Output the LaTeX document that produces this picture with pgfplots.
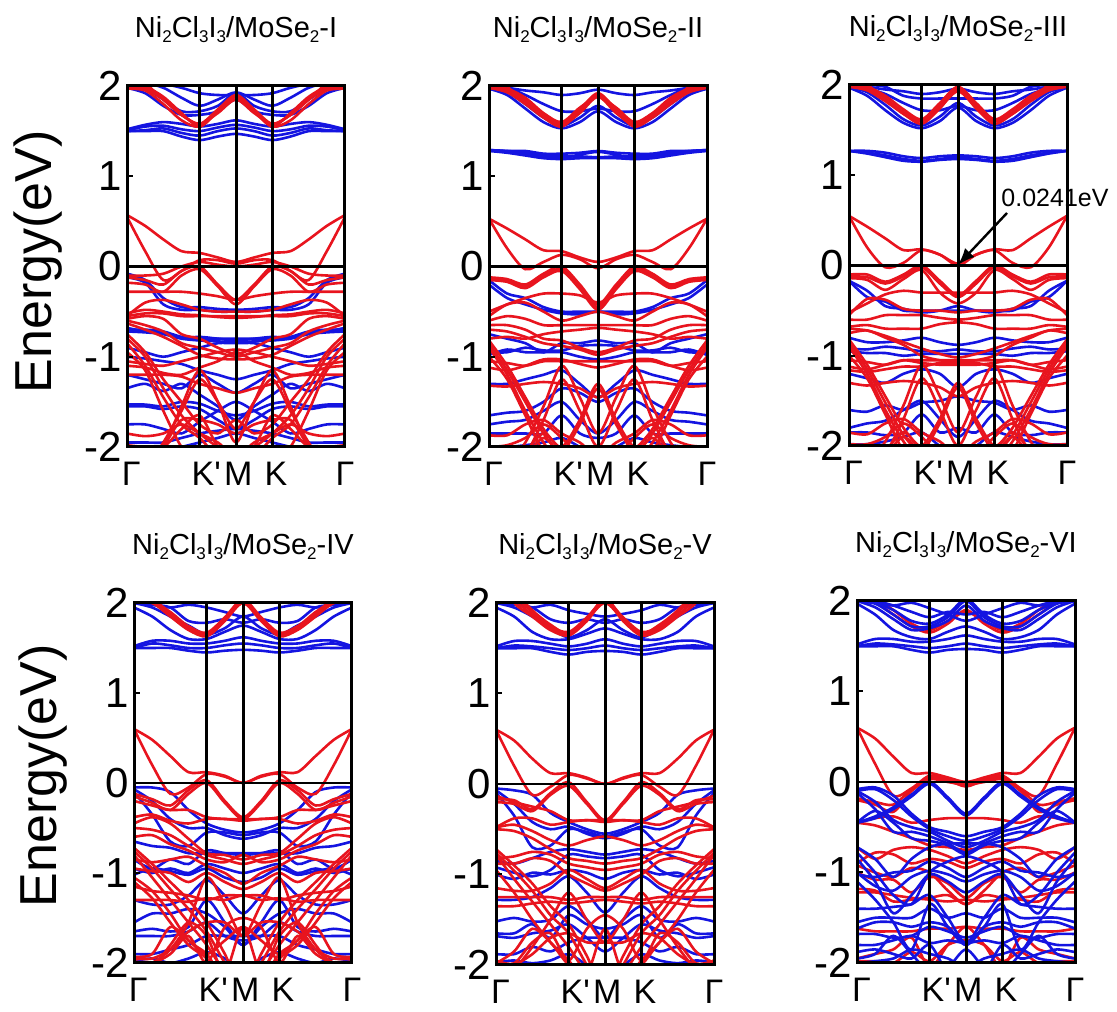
\documentclass[border=0pt]{standalone}
\usepackage{fontspec}
\setmainfont{Liberation Sans}
\newfontfamily\plainf{Liberation Sans}
\usepackage{pgfplots}
\usetikzlibrary{arrows.meta}
\pgfplotsset{compat=1.18}
\definecolor{bandred}{RGB}{232,20,30}
\definecolor{bandblue}{RGB}{20,20,225}
% one band: energies at Gamma, .25, .5, .75, K', 1.25, M; path is mirror symmetric about M
\def\RD#1 #2 #3 #4 #5 #6 #7;{\addplot[bandred,line width=2.6pt,smooth,tension=.5] coordinates {(0,#1)(.25,#2)(.5,#3)(.75,#4)(1,#5)(1.25,#6)(1.5,#7)(1.75,#6)(2,#5)(2.25,#4)(2.5,#3)(2.75,#2)(3,#1)};}
\def\BL#1 #2 #3 #4 #5 #6 #7;{\addplot[bandblue,line width=2.6pt,smooth,tension=.5] coordinates {(0,#1)(.25,#2)(.5,#3)(.75,#4)(1,#5)(1.25,#6)(1.5,#7)(1.75,#6)(2,#5)(2.25,#4)(2.5,#3)(2.75,#2)(3,#1)};}
\newcommand\Frame{%
 \addplot[black,line width=2.7pt] coordinates {(0,0)(3,0)};
 \addplot[black,line width=3pt] coordinates {(1,-2)(1,2)};
 \addplot[black,line width=3pt] coordinates {(1.5,-2)(1.5,2)};
 \addplot[black,line width=3pt] coordinates {(2,-2)(2,2)};}
\newcommand\sbs[1]{\raisebox{-.32ex}{\fontsize{17}{17}\selectfont #1}}
\newcommand\Ttl[1]{Ni\sbs{2}Cl\sbs{3}I\sbs{3}/MoSe\sbs{2}-#1}
\pgfplotsset{panel/.style={scale only axis,width=218pt,height=361pt,anchor=south west,
 xmin=0,xmax=3,ymin=-2,ymax=2,axis on top,axis line style={line width=3pt},
 xtick={.06,1.09,1.53,2.05,3},xticklabels={Γ,{\plainf K'},M,K,Γ},
 ytick={-2,-1,0,1,2},yticklabels={-2,-1,0,1,2},ytick pos=left,
 xtick style={draw=none},ytick style={line width=2pt,black},
 tick align=inside,major tick length=6pt,
 xticklabel style={font=\fontsize{34}{34}\selectfont,yshift=-15pt,inner sep=0pt,anchor=north},
 yticklabel style={font=\fontsize{42}{42}\selectfont,xshift=-5pt,inner sep=0pt,anchor=east},
 title style={at={(0.5,1)},anchor=center,yshift=50pt,font=\fontsize{29}{29}\selectfont},
 }}
\begin{document}
\begin{tikzpicture}[x=1pt,y=1pt]
\useasboundingbox (0,0) rectangle (1117,1012);
% ---------- I
\begin{axis}[panel,at={(127pt,565pt)},title={\Ttl{I}}]
\BL 1.50 1.50 1.50 1.44 1.40 1.44 1.47;
\BL 1.50 1.51 1.53 1.48 1.45 1.50 1.53;
\BL 1.51 1.55 1.56 1.52 1.50 1.54 1.57;
\BL 1.52 1.57 1.60 1.58 1.55 1.58 1.62;
\BL 1.98 1.92 1.78 1.68 1.68 1.72 1.85;
\BL 2.00 1.97 1.85 1.72 1.72 1.78 1.92;
\BL 2.00 2.03 1.98 1.87 1.78 1.85 1.93;
\BL 2.00 2.00 2.02 1.98 1.92 1.90 1.90;
\BL 2.00 2.00 2.00 2.00 2.00 2.00 2.00;
\BL -.08 -.15 -.35 -.45 -.45 -.47 -.48;
\BL -.12 -.18 -.42 -.48 -.48 -.50 -.50;
\BL -.70 -.70 -.72 -.78 -.80 -.80 -.80;
\BL -.72 -.73 -.75 -.80 -.82 -.83 -.84;
\BL -.68 -.72 -.74 -.79 -.78 -.80 -.82;
\BL -.90 -.95 -1.00 -.95 -.90 -.85 -.85;
\BL -1.00 -1.02 -1.05 -1.08 -1.15 -1.20 -1.25;
\BL -1.20 -1.25 -1.30 -1.35 -1.20 -1.30 -1.40;
\BL -1.35 -1.30 -1.38 -1.30 -1.42 -1.55 -1.70;
\BL -1.53 -1.53 -1.55 -1.50 -1.52 -1.60 -1.65;
\BL -1.55 -1.55 -1.58 -1.55 -1.58 -1.70 -1.80;
\BL -1.75 -1.75 -1.80 -1.85 -1.72 -1.60 -1.50;
\BL -1.95 -1.95 -1.95 -1.90 -1.85 -1.82 -1.80;
\BL -2.00 -2.00 -2.05 -2.00 -1.95 -1.90 -1.85;
\RD 1.97 1.95 1.80 1.62 1.55 1.72 1.88;
\RD 1.98 1.97 1.85 1.68 1.58 1.74 1.90;
\RD 1.98 1.99 1.88 1.70 1.55 1.72 1.85;
\RD 2.40 2.05 1.85 1.68 1.58 1.70 1.85;
\RD .57 .45 .30 .17 .15 .10 .05;
\RD .55 .17 -.15 -.05 .07 .07 .03;
\RD -.10 -.10 -.08 .00 .05 .02 .00;
\RD -.12 -.15 -.20 -.05 .00 -.20 -.37;
\RD -.18 -.20 -.28 -.10 -.03 -.22 -.42;
\RD -.28 -.28 -.28 -.28 -.30 -.33 -.37;
\RD -.55 -.40 -.37 -.42 -.48 -.50 -.50;
\RD -.55 -.52 -.52 -.55 -.55 -.55 -.55;
\RD -.52 -.48 -.50 -.53 -.54 -.56 -.57;
\RD -.58 -.55 -.58 -.75 -.80 -.90 -.97;
\RD -.60 -.65 -.72 -.85 -.90 -.95 -1.00;
\RD -.63 -.70 -.78 -.88 -.98 -1.02 -1.03;
\RD -.75 -.95 -1.25 -1.50 -1.75 -1.85 -1.70;
\RD -.85 -1.10 -1.45 -1.75 -1.90 -2.10 -2.10;
\RD -.80 -1.00 -1.35 -1.65 -1.85 -2.00 -2.10;
\RD -.95 -1.15 -1.60 -2.00 -2.20 -2.20 -2.20;
\RD -1.05 -1.08 -1.10 -1.05 -1.00 -.95 -.92;
\RD -1.10 -1.12 -1.18 -1.20 -1.12 -1.05 -.95;
\RD -1.20 -1.20 -1.20 -1.22 -1.30 -1.35 -1.40;
\RD -2.50 -2.25 -1.95 -1.60 -1.25 -1.50 -1.80;
\RD -2.30 -2.20 -2.00 -1.55 -1.15 -1.50 -1.95;
\RD -2.50 -2.30 -2.00 -1.70 -1.70 -1.75 -1.85;
\RD -1.85 -1.88 -1.85 -1.75 -1.85 -1.95 -2.10;
\RD -1.98 -2.00 -2.00 -1.80 -1.65 -2.00 -2.20;
\Frame
\end{axis}
% ---------- II
\begin{axis}[panel,at={(489pt,565pt)},title={\Ttl{II}}]
\BL 1.29 1.27 1.25 1.22 1.20 1.24 1.27;
\BL 1.29 1.28 1.26 1.24 1.22 1.22 1.21;
\BL 1.28 1.26 1.23 1.20 1.19 1.20 1.20;
\BL 1.29 1.28 1.28 1.25 1.25 1.26 1.28;
\BL 1.97 1.90 1.75 1.60 1.53 1.60 1.72;
\BL 1.97 1.93 1.80 1.65 1.56 1.65 1.78;
\BL 1.98 1.98 1.90 1.80 1.72 1.72 1.75;
\BL 2.00 1.98 1.95 1.93 1.90 1.92 1.96;
\BL 2.00 2.00 2.00 2.00 2.00 2.00 2.00;
\BL -.15 -.30 -.35 -.45 -.50 -.50 -.50;
\BL -.20 -.35 -.42 -.48 -.52 -.53 -.50;
\BL -.75 -.80 -.85 -.95 -.85 -.85 -.82;
\BL -.95 -.95 -.90 -.93 -.93 -.88 -.87;
\BL -.98 -.92 -.95 -.95 -.95 -1.00 -1.03;
\BL -1.30 -1.30 -1.25 -1.20 -1.15 -1.30 -1.45;
\BL -1.65 -1.62 -1.60 -1.50 -1.35 -1.40 -1.50;
\BL -1.75 -1.72 -1.70 -1.60 -1.50 -1.70 -1.85;
\BL -1.85 -1.85 -1.85 -1.85 -1.65 -1.85 -1.90;
\BL -2.00 -2.00 -1.98 -1.95 -1.90 -2.00 -2.10;
\RD 1.98 1.93 1.80 1.65 1.55 1.72 1.90;
\RD 1.98 1.95 1.83 1.68 1.58 1.74 1.92;
\RD 1.99 1.97 1.87 1.70 1.60 1.76 1.88;
\RD 2.40 2.00 1.85 1.68 1.57 1.70 1.88;
\RD .53 .42 .30 .18 .17 .10 .05;
\RD .53 .20 -.03 .05 .13 .08 -.02;
\RD -.12 -.14 -.20 -.08 .00 -.20 -.42;
\RD -.13 -.16 -.22 -.10 -.03 -.22 -.45;
\RD -.15 -.17 -.24 -.12 -.05 -.25 -.48;
\RD -.50 -.42 -.35 -.30 -.30 -.32 -.40;
\RD -.55 -.42 -.40 -.50 -.60 -.55 -.50;
\RD -.60 -.55 -.58 -.65 -.65 -.65 -.65;
\RD -.65 -.65 -.70 -.80 -.82 -.90 -.95;
\RD -.70 -.72 -.78 -.85 -.88 -.92 -.98;
\RD -.80 -.78 -.80 -.75 -.72 -.70 -.68;
\RD -.82 -1.10 -1.45 -1.80 -2.05 -2.30 -2.30;
\RD -.86 -1.15 -1.50 -1.85 -2.10 -2.30 -2.30;
\RD -.90 -1.20 -1.60 -1.95 -2.20 -2.30 -2.30;
\RD -1.00 -1.25 -1.65 -2.05 -2.10 -2.20 -2.20;
\RD -1.05 -1.07 -1.10 -1.05 -1.05 -1.05 -1.05;
\RD -1.12 -1.15 -1.10 -1.03 -1.03 -1.08 -1.12;
\RD -1.32 -1.33 -1.30 -1.28 -1.30 -1.35 -1.45;
\RD -2.40 -2.20 -1.95 -1.55 -1.10 -1.45 -1.85;
\RD -2.60 -2.40 -2.10 -1.70 -1.25 -1.60 -2.00;
\RD -2.30 -2.20 -2.05 -1.85 -2.00 -1.70 -1.30;
\RD -2.35 -2.25 -2.10 -1.90 -2.05 -1.75 -1.35;
\RD -1.87 -1.87 -1.75 -1.70 -1.85 -1.95 -2.10;
\RD -2.00 -1.98 -1.90 -1.75 -1.90 -2.10 -2.20;
\Frame
\end{axis}
% ---------- III
\begin{axis}[panel,at={(849pt,566pt)},title={\Ttl{III}}]
\BL 1.27 1.25 1.22 1.18 1.16 1.18 1.20;
\BL 1.27 1.24 1.20 1.16 1.15 1.17 1.18;
\BL 1.27 1.27 1.25 1.21 1.19 1.21 1.22;
\BL 1.97 1.88 1.72 1.58 1.52 1.60 1.75;
\BL 1.98 1.92 1.78 1.62 1.55 1.65 1.80;
\BL 1.99 1.96 1.90 1.80 1.72 1.72 1.77;
\BL 2.00 1.98 1.95 1.93 1.90 1.92 1.96;
\BL 2.00 2.00 1.98 1.88 1.85 1.85 1.85;
\BL -.17 -.35 -.40 -.50 -.50 -.50 -.50;
\BL -.17 -.28 -.45 -.48 -.52 -.50 -.45;
\BL -.80 -.85 -.85 -.83 -.80 -.85 -.88;
\BL -.92 -.93 -.90 -.92 -.95 -.95 -.93;
\BL -.95 -.97 -.97 -1.00 -.98 -.98 -.98;
\BL -1.20 -1.25 -1.30 -1.20 -1.15 -1.20 -1.35;
\BL -1.60 -1.62 -1.55 -1.60 -1.52 -1.50 -1.45;
\BL -1.80 -1.75 -1.72 -1.60 -1.50 -1.70 -1.90;
\BL -1.85 -1.85 -1.88 -1.85 -1.65 -1.85 -1.80;
\BL -1.98 -1.98 -1.95 -1.90 -1.85 -2.00 -2.10;
\RD 1.98 1.94 1.82 1.68 1.57 1.74 1.95;
\RD 1.99 1.96 1.85 1.70 1.60 1.77 1.97;
\RD 2.00 1.98 1.88 1.73 1.62 1.80 1.98;
\RD 2.40 2.02 1.85 1.68 1.60 1.75 1.93;
\RD .55 .43 .30 .17 .18 .12 .02;
\RD .55 .20 -.02 .03 .17 .12 .00;
\RD -.10 -.10 -.18 -.10 .00 -.17 -.33;
\RD -.12 -.13 -.20 -.12 -.02 -.20 -.35;
\RD -.14 -.16 -.27 -.15 -.05 -.30 -.42;
\RD -.52 -.42 -.32 -.28 -.30 -.30 -.30;
\RD -.55 -.37 -.38 -.48 -.50 -.50 -.52;
\RD -.60 -.60 -.55 -.55 -.55 -.58 -.60;
\RD -.68 -.66 -.70 -.70 -.70 -.65 -.63;
\RD -.70 -.72 -.78 -.85 -.92 -.98 -1.02;
\RD -.75 -.72 -.80 -.88 -1.00 -1.05 -1.07;
\RD -.82 -1.10 -1.45 -1.80 -2.05 -2.20 -2.20;
\RD -.86 -1.15 -1.52 -1.88 -2.10 -2.25 -2.25;
\RD -.90 -1.20 -1.60 -1.95 -2.20 -2.30 -2.30;
\RD -1.00 -1.25 -1.65 -2.05 -2.10 -2.20 -2.20;
\RD -1.05 -1.07 -1.10 -1.05 -1.05 -1.05 -1.05;
\RD -1.12 -1.15 -1.10 -1.05 -1.08 -1.10 -1.10;
\RD -1.16 -1.18 -1.15 -1.12 -1.12 -1.08 -1.08;
\RD -1.30 -1.33 -1.30 -1.28 -1.30 -1.35 -1.45;
\RD -2.40 -2.20 -1.95 -1.55 -1.10 -1.45 -1.85;
\RD -2.60 -2.40 -2.10 -1.70 -1.25 -1.60 -2.00;
\RD -2.30 -2.20 -2.05 -1.85 -2.00 -1.70 -1.30;
\RD -2.35 -2.25 -2.10 -1.90 -2.05 -1.75 -1.35;
\RD -1.85 -1.87 -1.75 -1.70 -1.85 -1.95 -2.10;
\RD -1.98 -1.98 -1.90 -1.75 -1.90 -2.10 -2.20;
\Frame
\end{axis}
% ---------- IV
\begin{axis}[panel,at={(134pt,49pt)},height=360pt,title={\Ttl{IV}}]
\BL 1.50 1.50 1.50 1.47 1.45 1.47 1.48;
\BL 1.50 1.55 1.53 1.50 1.50 1.53 1.55;
\BL 1.52 1.58 1.58 1.55 1.55 1.58 1.62;
\BL 1.95 1.85 1.70 1.60 1.60 1.68 1.75;
\BL 2.00 1.95 1.85 1.75 1.65 1.72 1.85;
\BL 2.00 1.98 1.95 1.80 1.78 1.82 1.78;
\BL 2.00 1.98 1.95 1.98 1.95 1.90 1.85;
\BL -.05 -.05 -.10 -.30 -.45 -.52 -.55;
\BL -.07 -.20 -.40 -.50 -.50 -.58 -.62;
\BL -.10 -.35 -.65 -.70 -.55 -.55 -.58;
\BL -.65 -.70 -.72 -.78 -.78 -.78 -.78;
\BL -.85 -.95 -.85 -.90 -.75 -.78 -.80;
\BL -.95 -1.00 -.95 -1.00 -.90 -.95 -1.00;
\BL -1.02 -.95 -.98 -1.02 -.95 -1.05 -1.10;
\BL -1.30 -1.35 -1.35 -1.25 -1.08 -1.25 -1.45;
\BL -1.55 -1.45 -1.45 -1.40 -1.45 -1.60 -1.80;
\BL -1.65 -1.62 -1.65 -1.60 -1.30 -1.55 -1.80;
\BL -1.70 -1.70 -1.70 -1.65 -1.55 -1.70 -1.75;
\BL -1.90 -1.90 -1.85 -1.80 -1.70 -1.70 -1.70;
\BL -1.98 -1.95 -2.00 -1.95 -1.88 -1.95 -2.10;
\RD 2.00 2.00 1.85 1.70 1.63 1.80 2.00;
\RD 2.02 2.00 1.88 1.72 1.65 1.82 2.02;
\RD 2.04 2.02 1.90 1.74 1.67 1.84 2.04;
\RD 2.40 2.08 1.88 1.74 1.66 1.82 2.00;
\RD .60 .48 .30 .12 .12 .08 .00;
\RD .60 .20 -.12 -.05 .10 .07 .00;
\RD -.12 -.18 -.25 -.08 .03 -.20 -.38;
\RD -.15 -.22 -.30 -.12 .00 -.22 -.40;
\RD -.20 -.25 -.30 -.30 -.38 -.40 -.40;
\RD -.38 -.35 -.42 -.45 -.40 -.40 -.42;
\RD -.45 -.38 -.45 -.62 -.78 -.80 -.85;
\RD -.50 -.52 -.58 -.70 -.80 -.85 -.90;
\RD -.60 -.58 -.68 -.75 -.85 -.88 -.80;
\RD -.72 -.90 -1.10 -1.30 -1.55 -1.90 -2.30;
\RD -.76 -.95 -1.18 -1.40 -1.65 -2.00 -2.30;
\RD -.80 -1.05 -1.30 -1.55 -1.80 -2.10 -2.30;
\RD -.85 -.88 -.85 -.82 -.92 -1.00 -1.12;
\RD -.95 -.98 -1.00 -1.10 -1.00 -1.10 -1.18;
\RD -1.05 -1.20 -1.45 -1.75 -1.90 -2.20 -2.30;
\RD -1.10 -1.28 -1.55 -1.80 -1.95 -2.20 -2.30;
\RD -1.15 -1.20 -1.22 -1.25 -1.30 -1.25 -1.25;
\RD -1.30 -1.30 -1.30 -1.32 -1.28 -1.30 -1.25;
\RD -2.10 -2.00 -1.85 -1.55 -1.05 -1.35 -1.70;
\RD -2.00 -2.05 -1.80 -1.55 -1.70 -2.10 -1.60;
\RD -1.95 -1.95 -1.85 -1.65 -1.55 -1.55 -1.70;
\RD -1.98 -2.00 -1.90 -1.70 -2.00 -1.60 -1.50;
\RD -1.93 -1.90 -1.60 -1.75 -1.90 -1.75 -1.60;
\Frame
\end{axis}
% ---------- V
\begin{axis}[panel,at={(496pt,47pt)},height=362pt,title={\Ttl{V}}]
\BL 1.50 1.50 1.50 1.46 1.43 1.46 1.47;
\BL 1.50 1.53 1.52 1.50 1.48 1.50 1.53;
\BL 1.52 1.58 1.58 1.55 1.52 1.55 1.60;
\BL 1.95 1.85 1.68 1.60 1.60 1.66 1.72;
\BL 2.00 1.95 1.85 1.72 1.62 1.70 1.82;
\BL 2.00 1.98 1.95 1.82 1.78 1.82 1.78;
\BL 2.00 1.98 1.95 1.98 1.92 1.88 1.85;
\BL -.05 -.07 -.12 -.32 -.42 -.50 -.55;
\BL -.07 -.22 -.42 -.50 -.47 -.55 -.60;
\BL -.10 -.35 -.70 -.68 -.50 -.53 -.58;
\BL -.85 -.88 -.82 -.75 -.72 -.75 -.78;
\BL -.92 -.98 -1.02 -.95 -.78 -.80 -.82;
\BL -1.00 -1.05 -.98 -1.00 -.95 -.98 -1.05;
\BL -1.28 -1.28 -1.25 -1.15 -1.02 -1.20 -1.42;
\BL -1.52 -1.48 -1.52 -1.50 -1.35 -1.50 -1.70;
\BL -1.65 -1.65 -1.55 -1.70 -1.45 -1.55 -1.60;
\BL -1.68 -1.70 -1.65 -1.62 -1.55 -1.70 -1.85;
\BL -1.88 -1.88 -1.80 -1.85 -1.75 -1.70 -1.70;
\BL -1.97 -1.95 -1.98 -1.95 -1.88 -2.00 -2.10;
\RD 2.30 2.00 1.85 1.70 1.64 1.80 2.02;
\RD 2.40 2.05 1.87 1.72 1.66 1.82 2.05;
\RD 2.50 2.10 1.90 1.74 1.68 1.84 2.03;
\RD 2.60 2.15 1.92 1.76 1.66 1.82 2.00;
\RD .60 .48 .28 .12 .12 .07 .00;
\RD .60 .20 -.12 -.03 .10 .06 .00;
\RD -.17 -.18 -.28 -.10 .02 -.20 -.40;
\RD -.20 -.22 -.30 -.12 -.02 -.22 -.42;
\RD -.13 -.20 -.25 -.30 -.40 -.40 -.40;
\RD -.48 -.38 -.38 -.45 -.42 -.40 -.42;
\RD -.48 -.45 -.52 -.62 -.68 -.62 -.58;
\RD -.50 -.52 -.60 -.72 -.82 -.85 -.88;
\RD -.72 -.90 -1.10 -1.35 -1.55 -1.90 -2.30;
\RD -.76 -.96 -1.18 -1.45 -1.65 -2.00 -2.30;
\RD -.78 -1.05 -1.30 -1.55 -1.80 -2.10 -2.30;
\RD -.82 -.80 -.75 -.78 -.88 -.92 -.95;
\RD -.88 -.88 -.82 -.85 -1.00 -1.10 -1.18;
\RD -.95 -1.20 -1.50 -1.75 -1.95 -2.20 -2.30;
\RD -1.15 -1.18 -1.18 -1.10 -.95 -1.05 -1.15;
\RD -1.25 -1.25 -1.25 -1.25 -1.28 -1.25 -1.25;
\RD -1.35 -1.35 -1.32 -1.30 -1.32 -1.30 -1.28;
\RD -2.20 -2.05 -1.80 -1.50 -1.20 -1.50 -1.75;
\RD -1.95 -1.98 -1.75 -1.65 -1.95 -1.60 -1.45;
\RD -1.98 -1.85 -1.60 -1.75 -2.00 -2.10 -1.60;
\RD -2.05 -2.00 -1.88 -1.70 -1.65 -1.75 -1.75;
\Frame
\end{axis}
% ---------- VI
\begin{axis}[panel,at={(857pt,49pt)},height=362pt,title={\Ttl{VI}}]
\RD 2.00 1.98 1.85 1.72 1.65 1.75 1.90;
\RD 2.00 2.02 1.90 1.75 1.68 1.78 1.88;
\RD .60 .48 .28 .10 .10 .05 .00;
\RD .60 .20 -.15 -.07 .07 .03 -.03;
\RD -.18 -.22 -.25 -.08 .05 .02 -.05;
\RD -.20 -.25 -.33 -.10 .03 .00 -.03;
\RD -.45 -.40 -.38 -.45 -.42 -.40 -.40;
\RD -.45 -.48 -.55 -.62 -.70 -.72 -.75;
\RD -.72 -.85 -.75 -.72 -.75 -.82 -.90;
\RD -.90 -.78 -.80 -.90 -.85 -.88 -.95;
\RD -.92 -1.00 -1.05 -.95 -1.00 -1.20 -1.35;
\RD -1.00 -1.08 -1.08 -1.22 -1.05 -1.12 -1.28;
\RD -1.22 -1.22 -1.25 -1.28 -1.30 -1.32 -1.30;
\RD -1.18 -1.20 -1.32 -1.30 -1.28 -1.25 -1.35;
\RD -1.62 -1.65 -1.65 -1.65 -1.62 -1.62 -1.60;
\RD -1.95 -1.90 -1.85 -1.72 -2.05 -1.80 -1.60;
\RD -1.98 -1.98 -2.00 -1.88 -1.98 -1.80 -1.75;
\BL 1.50 1.50 1.50 1.46 1.43 1.46 1.47;
\BL 1.50 1.53 1.52 1.50 1.48 1.50 1.53;
\BL 1.52 1.58 1.58 1.55 1.55 1.58 1.62;
\BL 1.97 1.85 1.68 1.60 1.58 1.66 1.72;
\BL 2.00 1.93 1.80 1.68 1.70 1.78 1.95;
\BL 2.00 1.97 1.85 1.72 1.72 1.82 2.00;
\BL 2.00 1.98 1.90 1.78 1.75 1.85 2.02;
\BL 2.00 2.00 1.95 1.88 1.82 1.88 1.85;
\BL 2.00 1.98 1.95 1.98 1.92 1.85 1.78;
\BL -.45 -.38 -.28 -.14 .00 -.17 -.35;
\BL -.45 -.40 -.30 -.16 -.02 -.19 -.37;
\BL -.08 -.06 -.15 -.35 -.50 -.55 -.60;
\BL -.10 -.08 -.20 -.38 -.52 -.60 -.65;
\BL -.10 -.22 -.42 -.50 -.55 -.65 -.72;
\BL -.12 -.30 -.55 -.55 -.60 -.68 -.78;
\BL -.45 -.32 -.45 -.62 -.65 -.70 -.80;
\BL -.72 -.85 -1.05 -.85 -.72 -.68 -.68;
\BL -.78 -1.00 -1.25 -1.35 -1.00 -.88 -.82;
\BL -.85 -1.10 -1.45 -1.25 -1.02 -1.10 -1.22;
\BL -1.02 -1.05 -1.00 -.98 -.88 -.95 -1.05;
\BL -1.00 -1.15 -1.20 -1.05 -.98 -1.02 -1.10;
\BL -1.10 -1.30 -1.55 -1.85 -1.35 -1.60 -1.80;
\BL -1.40 -1.40 -1.38 -1.35 -1.25 -1.50 -1.78;
\BL -1.55 -1.50 -1.50 -1.50 -1.40 -1.50 -1.45;
\BL -1.62 -1.55 -1.55 -1.60 -1.55 -1.60 -1.80;
\BL -1.68 -1.68 -1.72 -1.70 -1.60 -1.65 -1.72;
\BL -1.80 -1.80 -1.75 -1.70 -1.78 -1.75 -1.78;
\BL -1.88 -1.85 -1.90 -1.95 -1.80 -2.10 -2.05;
\BL -1.95 -1.90 -1.70 -1.90 -2.10 -2.05 -1.85;
\BL -2.00 -1.98 -1.95 -1.85 -1.90 -1.95 -2.05;
\Frame
\end{axis}
% annotation and shared labels
\node[rotate=90,font=\fontsize{52}{52}\selectfont,inner sep=0pt] at (38,750) {Energy(eV)};
\node[rotate=90,font=\fontsize{52}{52}\selectfont,inner sep=0pt] at (43,236) {Energy(eV)};
\draw[-{Latex[length=17pt,width=13pt]},line width=2.4pt,black] (1007,799) -- (958,747);
\node[font=\fontsize{25}{25}\selectfont,inner sep=0pt] at (1055,814) {0.0241eV};
\end{tikzpicture}
\end{document}
